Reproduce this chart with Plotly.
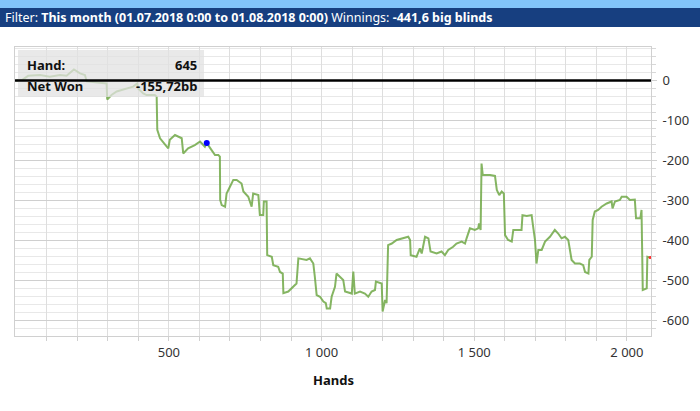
import plotly.graph_objects as go

# ---- data ----
hands = [0, 20, 39, 78, 110, 143, 165, 181, 189, 209, 225, 231, 274, 296, 298, 312, 329, 350, 367, 383,
         396, 400, 416, 427, 454, 460, 462, 471, 493, 498, 503, 520, 542, 547, 563, 585, 602, 618, 624, 640,
         651, 662, 667, 668, 673, 684, 689, 700, 711, 722, 738, 744, 760, 771, 776, 793, 798, 809, 811, 820,
         822, 837, 842, 858, 864, 873, 875, 891, 907, 918, 924, 951, 962, 973, 978, 984, 995, 1006, 1014, 1017,
         1028, 1033, 1044, 1049, 1060, 1071, 1077, 1099, 1104, 1109, 1126, 1142, 1153, 1164, 1175, 1178, 1197, 1200, 1208, 1213,
         1218, 1230, 1246, 1268, 1284, 1290, 1292, 1311, 1322, 1328, 1333, 1339, 1350, 1357, 1377, 1393, 1404, 1415, 1431, 1442,
         1459, 1470, 1475, 1486, 1502, 1513, 1516, 1521, 1524, 1528, 1552, 1568, 1574, 1582, 1590, 1597, 1601, 1611, 1623, 1628,
         1655, 1658, 1672, 1688, 1693, 1699, 1704, 1710, 1721, 1732, 1748, 1764, 1775, 1786, 1797, 1808, 1819, 1830, 1846, 1857,
         1863, 1874, 1877, 1885, 1888, 1895, 1906, 1917, 1934, 1950, 1953, 1961, 1977, 1983, 1999, 2010, 2026, 2030, 2044, 2048,
         2052, 2065, 2067, 2076]
net_won = [0, 2, 12, 14, 10, 14, 12, 22, 28, 18, 14, -2, -5, -7, -47, -36, -27, -23, -19, -15,
           -7, -20, -32, -36, -36, -40, -123, -144, -165, -169, -148, -136, -144, -182, -169, -161, -152, -165, -156, -173,
           -186, -186, -190, -298, -311, -315, -282, -265, -248, -248, -257, -277, -290, -315, -282, -286, -336, -336, -302, -302,
           -436, -440, -461, -465, -478, -482, -531, -527, -515, -507, -444, -448, -444, -457, -490, -536, -540, -552, -556, -569,
           -569, -540, -515, -482, -490, -498, -527, -532, -477, -532, -527, -532, -540, -527, -523, -502, -507, -577, -548, -556,
           -411, -407, -398, -394, -390, -398, -436, -440, -419, -432, -415, -390, -394, -427, -432, -427, -436, -423, -415, -407,
           -402, -407, -394, -369, -373, -369, -357, -373, -207, -236, -236, -238, -273, -286, -277, -282, -386, -398, -402, -373,
           -373, -336, -338, -336, -365, -398, -457, -423, -423, -402, -390, -373, -382, -394, -390, -398, -448, -457, -457, -461,
           -478, -482, -448, -440, -348, -327, -323, -315, -307, -302, -319, -302, -298, -290, -290, -298, -297, -344, -344, -323,
           -523, -519, -440, -441.6]

hover_hand = 624
hover_value = -155.72
hover_hand_label = "645"
hover_value_label = "-155,72bb"

x_tick_vals = [500, 1000, 1500, 2000]
x_tick_text = ["500", "1 000", "1 500", "2 000"]
y_tick_vals = [0, -100, -200, -300, -400, -500, -600]
y_tick_text = ["0", "-100", "-200", "-300", "-400", "-500", "-600"]

header_parts = [("Filter: ", False), ("This month (01.07.2018 0:00 to 01.08.2018 0:00)", True),
                (" Winnings: ", False), ("-441,6 big blinds", True)]

# ---- geometry ----
W, H = 700, 411
L, R, T, B = 15, 651, 47, 336
X_RANGE = [-4, 2079]
Y_RANGE = [-638, 84]

def xp(px):
    return (px - L) / (R - L)

def yp(py):
    return (B - py) / (B - T)

FONT = "Noto Sans"

fig = go.Figure()

fig.add_trace(go.Scatter(
    x=hands, y=net_won, mode="lines", line=dict(color="rgba(112,168,70,0.85)", width=2),
    hoverinfo="skip", showlegend=False))

fig.add_trace(go.Scatter(
    x=[hover_hand], y=[hover_value], mode="markers",
    marker=dict(color="#0000ff", size=6), showlegend=False, hoverinfo="skip"))

fig.add_trace(go.Scatter(
    x=[hands[-1]], y=[net_won[-1]], mode="markers",
    marker=dict(color="#ff3030", size=3), showlegend=False, hoverinfo="skip"))

all_x = list(range(100, 2100, 100))
fig.update_xaxes(
    range=X_RANGE, tickvals=all_x,
    ticktext=[x_tick_text[x_tick_vals.index(v)] if v in x_tick_vals else "" for v in all_x],
    showgrid=True, gridcolor="#dedede", gridwidth=1,
    ticks="outside", ticklen=4, tickcolor="#d0d0d0",
    tickfont=dict(family=FONT, size=13, color="#333333"),
    showline=True, linecolor="#d0d0d0", mirror=True, zeroline=False,
)
fig.update_yaxes(
    range=Y_RANGE, side="right", tickvals=y_tick_vals, ticktext=y_tick_text,
    showgrid=True, gridcolor="#cfcfcf", gridwidth=1,
    ticks="outside", ticklen=5, tickcolor="#d0d0d0", ticklabelstandoff=3,
    minor=dict(dtick=20, showgrid=True, gridcolor="#e8e8e8", ticks="outside", ticklen=4, tickcolor="#d8d8d8"),
    tickfont=dict(family=FONT, size=13, color="#333333"),
    showline=True, linecolor="#d0d0d0", mirror=True, zeroline=False,
)

shapes = [
    # header bars
    dict(type="rect", xref="paper", yref="paper", x0=xp(0), x1=xp(W), y0=yp(0), y1=yp(8),
         fillcolor="#82c4fa", line=dict(width=0), layer="above"),
    dict(type="rect", xref="paper", yref="paper", x0=xp(0), x1=xp(W), y0=yp(8), y1=yp(27),
         fillcolor="#173f80", line=dict(width=0), layer="above"),
    # tooltip box
    dict(type="rect", xref="paper", yref="paper", x0=xp(18), x1=xp(204), y0=yp(50), y1=yp(97),
         fillcolor="rgba(225,225,225,0.75)", line=dict(width=0), layer="above"),
    # zero line
    dict(type="line", xref="paper", yref="y", x0=0, x1=1, y0=0, y1=0,
         line=dict(color="#000000", width=2.5), layer="above"),
]

annotations = [dict(xref="paper", yref="paper", x=xp(3), y=yp(17.5), xanchor="left", yanchor="middle",
                    text="".join(f"<b>{t}</b>" if b else t for t, b in header_parts), showarrow=False,
                    font=dict(family=FONT, size=12.5, color="#ffffff"))]

annotations += [
    dict(xref="paper", yref="paper", x=xp(25), y=yp(65), xanchor="left", yanchor="middle",
         text="<b>Hand:</b>", showarrow=False, font=dict(family=FONT, size=13, color="#111111")),
    dict(xref="paper", yref="paper", x=xp(199), y=yp(65), xanchor="right", yanchor="middle",
         text=f"<b>{hover_hand_label}</b>", showarrow=False, font=dict(family=FONT, size=13, color="#111111")),
    dict(xref="paper", yref="paper", x=xp(25), y=yp(86), xanchor="left", yanchor="middle",
         text="<b>Net Won</b>", showarrow=False, font=dict(family=FONT, size=13, color="#111111")),
    dict(xref="paper", yref="paper", x=xp(199), y=yp(86), xanchor="right", yanchor="middle",
         text=f"<b>{hover_value_label}</b>", showarrow=False, font=dict(family=FONT, size=13, color="#111111")),
    dict(xref="paper", yref="paper", x=xp(333), y=yp(380), xanchor="center", yanchor="middle",
         text="<b>Hands</b>", showarrow=False, font=dict(family=FONT, size=13, color="#111111")),
]

fig.update_layout(
    width=W, height=H, margin=dict(l=L, r=W - R, t=T, b=H - B, pad=0),
    paper_bgcolor="#ffffff", plot_bgcolor="#ffffff",
    shapes=shapes, annotations=annotations, showlegend=False,
)

fig.write_html("out.html", config={"displayModeBar": False},
               post_script="document.body.style.margin='0';document.body.style.overflow='hidden';")
